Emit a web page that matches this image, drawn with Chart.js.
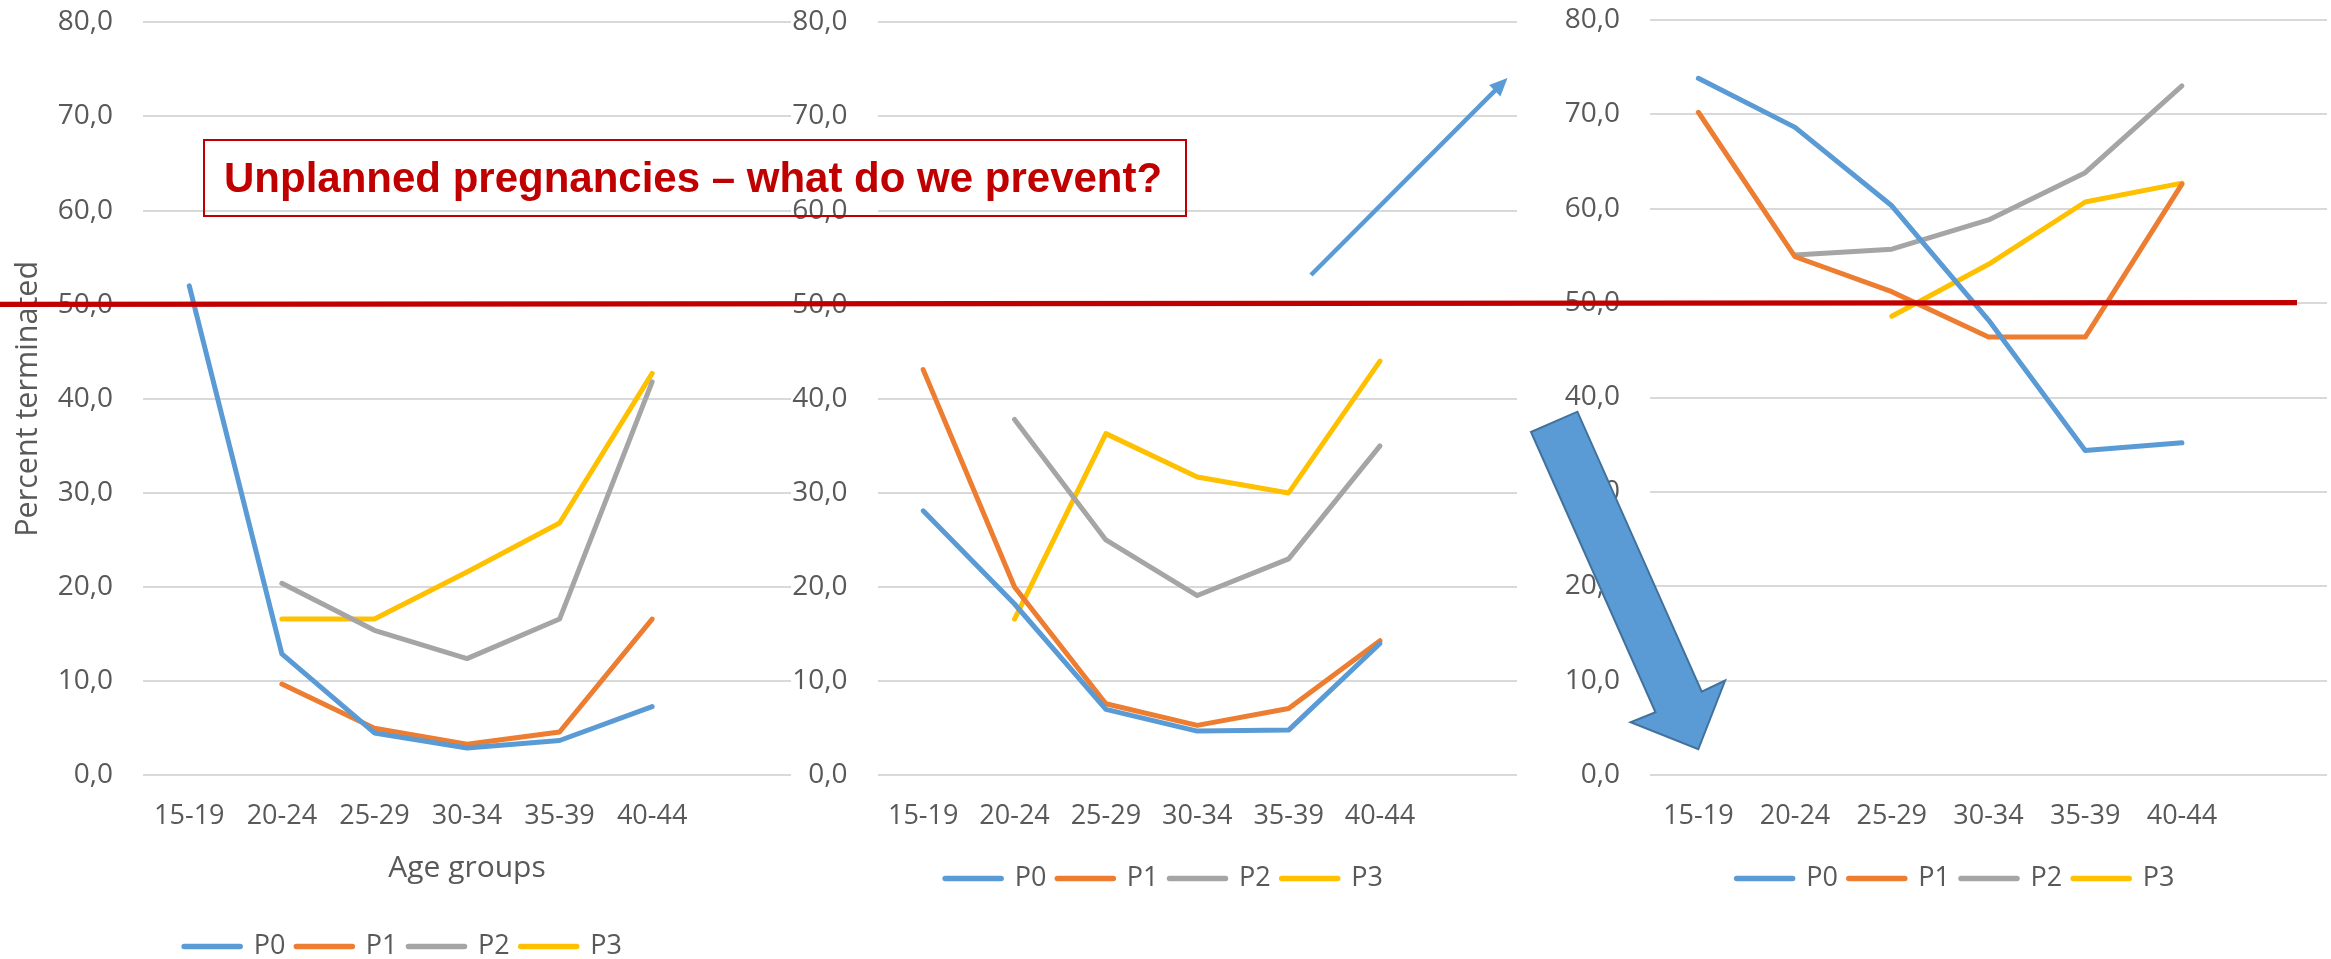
<!DOCTYPE html>
<html>
<head>
<meta charset="utf-8">
<script src="https://cdn.jsdelivr.net/npm/chart.js@4.4.1/dist/chart.umd.min.js"></script>
<style>
  html, body { margin: 0; padding: 0; background: #ffffff; width: 2331px; height: 959px; overflow: hidden; position: relative; }
  canvas { position: absolute; }
  #headline {
    position: absolute; left: 203px; top: 139px; width: 984px; height: 78px;
    box-sizing: border-box; border: 2px solid #C00000; padding-left: 19px;
    font-family: 'Liberation Sans', Arial, sans-serif; font-weight: bold; font-size: 42px;
    line-height: 74px; color: #C00000; white-space: nowrap; z-index: 3;
  }
</style>
</head>
<body>
<canvas id="panelA" width="791" height="970" style="left:0px;top:0px"></canvas>
<canvas id="panelB" width="737" height="902" style="left:780px;top:0px"></canvas>
<canvas id="panelC" width="772" height="902" style="left:1555px;top:0px"></canvas>
<canvas id="overlay" width="2331" height="959" style="left:0px;top:0px;z-index:2"></canvas>
<div id="headline">Unplanned pregnancies – what do we prevent?</div>
<script>
// Age groups on the x axis (last slot left empty)
const ageGroups = ['15-19', '20-24', '25-29', '30-34', '35-39', '40-44', ''];
const seriesNames = ['P0', 'P1', 'P2', 'P3'];
const seriesColors = ['#5B9BD5', '#ED7D31', '#A5A5A5', '#FFC000'];
const yMin = 0, yMax = 80, yStep = 10;

// Percent terminated, panel A
const panelA_P0 = [52.0, 12.9, 4.5, 2.9, 3.7, 7.3];
const panelA_P1 = [null, 9.7, 5.0, 3.3, 4.6, 16.6];
const panelA_P2 = [null, 20.4, 15.4, 12.4, 16.6, 41.8];
const panelA_P3 = [null, 16.6, 16.6, 21.6, 26.8, 42.7];

// Percent terminated, panel B
const panelB_P0 = [28.1, 18.2, 7.0, 4.7, 4.8, 14.0];
const panelB_P1 = [43.1, 20.0, 7.6, 5.3, 7.1, 14.3];
const panelB_P2 = [null, 37.8, 25.0, 19.1, 23.0, 35.0];
const panelB_P3 = [null, 16.6, 36.3, 31.7, 30.0, 44.0];

// Percent terminated, panel C
const panelC_P0 = [73.8, 68.6, 60.3, 48.2, 34.4, 35.2];
const panelC_P1 = [70.2, 54.9, 51.2, 46.4, 46.4, 62.6];
const panelC_P2 = [null, 55.1, 55.7, 58.8, 63.8, 73.0];
const panelC_P3 = [null, null, 48.6, 54.1, 60.7, 62.7];

// Threshold drawn across all panels
const thresholdValue = 50;

Chart.defaults.font.family = "'Open Sans', 'Liberation Sans', Arial, sans-serif";
Chart.defaults.color = '#595959';

const textGrey = '#595959';

// Nudges the bottom legend sideways before it is painted
const legendNudge = {
  id: 'legendNudge',
  beforeDraw(chart, args, opts) {
    const lg = chart.legend;
    if (lg && !lg.$nudged) {
      lg.left += opts.dx || 0;
      lg.right += opts.dx || 0;
      lg.$nudged = true;
    }
  }
};

function makePanel(id, series, cfg) {
  return new Chart(document.getElementById(id), {
    type: 'line',
    data: {
      labels: ageGroups,
      datasets: series.map((values, i) => ({
        label: seriesNames[i],
        data: values,
        borderColor: seriesColors[i],
        backgroundColor: seriesColors[i],
        borderWidth: 5,
        pointRadius: 0,
        pointHoverRadius: 0,
        tension: 0,
        fill: false,
        spanGaps: false,
        borderCapStyle: 'round',
        borderJoinStyle: 'round'
      }))
    },
    plugins: [legendNudge],
    options: {
      responsive: false,
      animation: false,
      devicePixelRatio: 1,
      events: [],
      layout: { padding: cfg.padding },
      plugins: {
        tooltip: { enabled: false },
        legendNudge: { dx: cfg.legendDx },
        legend: {
          position: 'bottom',
          labels: {
            usePointStyle: true,
            pointStyle: 'line',
            pointStyleWidth: 56,
            padding: 11,
            color: textGrey,
            font: { size: 27 },
            generateLabels: chart => chart.data.datasets.map((ds, i) => ({
              text: ds.label,
              fillStyle: ds.borderColor,
              strokeStyle: ds.borderColor,
              fontColor: textGrey,
              lineWidth: 5.5,
              lineCap: 'round',
              pointStyle: 'line',
              hidden: false,
              datasetIndex: i
            }))
          }
        }
      },
      scales: {
        x: {
          offset: true,
          grid: { display: false, drawTicks: false },
          border: { display: false },
          ticks: { color: textGrey, font: { size: 27 }, padding: 25.2, autoSkip: false, maxRotation: 0, minRotation: 0 },
          title: cfg.xTitle
            ? { display: true, text: cfg.xTitle, color: textGrey, font: { size: 30 }, padding: { top: 0, bottom: cfg.xTitlePad } }
            : { display: false },
          afterFit: s => { s.height = cfg.xHeight; s.paddingLeft = 0; s.paddingRight = 0; }
        },
        y: {
          min: yMin,
          max: yMax,
          grid: { color: '#D9D9D9', lineWidth: 2, drawTicks: false },
          border: { display: false },
          ticks: {
            stepSize: yStep,
            padding: 30,
            color: textGrey,
            font: { size: 28 },
            callback: v => Number(v).toFixed(1).replace('.', ',')
          },
          title: cfg.yTitle
            ? { display: true, text: cfg.yTitle, color: textGrey, font: { size: 30.5 }, padding: { top: 10.2, bottom: 0 } }
            : { display: false },
          afterFit: s => { s.width = cfg.yWidth; s.paddingTop = 0; s.paddingBottom = 0; }
        }
      }
    }
  });
}

const chartA = makePanel('panelA', [panelA_P0, panelA_P1, panelA_P2, panelA_P3], {
  padding: { top: 22.3, left: 0, right: 0, bottom: 0 },
  yWidth: 143, xHeight: 146.7, legendDx: 7.5,
  yTitle: 'Percent terminated', xTitle: 'Age groups', xTitlePad: 36
});
const chartB = makePanel('panelB', [panelB_P0, panelB_P1, panelB_P2, panelB_P3], {
  padding: { top: 22.3, left: 8, right: 0, bottom: 0 },
  yWidth: 89.5, xHeight: 78.7, legendDx: 11.5
});
const chartC = makePanel('panelC', [panelC_P0, panelC_P1, panelC_P2, panelC_P3], {
  padding: { top: 19.7, left: 5, right: 0, bottom: 0 },
  yWidth: 90, xHeight: 78.7, legendDx: 12
});

// Annotations layered over the three panels
const ov = document.getElementById('overlay').getContext('2d');

// 50 % threshold line spanning the panels
ov.save();
ov.strokeStyle = '#C00000';
ov.lineWidth = 5.3;
ov.beginPath();
ov.moveTo(0, chartA.scales.y.getPixelForValue(thresholdValue) - 0.3);
ov.lineTo(2297, chartC.scales.y.getPixelForValue(thresholdValue) - 0.5);
ov.stroke();
ov.restore();

// Thin rising arrow
function thinArrow(x0, y0, x1, y1, color, width, headLen, headHalf) {
  const dx = x1 - x0, dy = y1 - y0;
  const len = Math.hypot(dx, dy);
  const ux = dx / len, uy = dy / len;
  const bx = x1 - ux * headLen, by = y1 - uy * headLen;
  ov.save();
  ov.strokeStyle = color;
  ov.fillStyle = color;
  ov.lineWidth = width;
  ov.lineCap = 'butt';
  ov.beginPath();
  ov.moveTo(x0, y0);
  ov.lineTo(bx + ux * 2, by + uy * 2);
  ov.stroke();
  ov.beginPath();
  ov.moveTo(x1, y1);
  ov.lineTo(bx - uy * headHalf, by + ux * headHalf);
  ov.lineTo(bx + uy * headHalf, by - ux * headHalf);
  ov.closePath();
  ov.fill();
  ov.restore();
}
thinArrow(1311, 275, 1507.5, 78, '#5B9BD5', 4.5, 18, 8);

// Block arrow pointing down
const blockArrow = [
  [1531, 432], [1577.4, 411.7], [1701.7, 691.7], [1725.1, 680.5],
  [1698.3, 749.3], [1630.6, 722.3], [1655.5, 712.3]
];
ov.save();
ov.beginPath();
blockArrow.forEach(([x, y], i) => (i ? ov.lineTo(x, y) : ov.moveTo(x, y)));
ov.closePath();
ov.fillStyle = '#5B9BD5';
ov.fill();
ov.strokeStyle = '#41719C';
ov.lineWidth = 2;
ov.lineJoin = 'miter';
ov.stroke();
ov.restore();
</script>
</body>
</html>
